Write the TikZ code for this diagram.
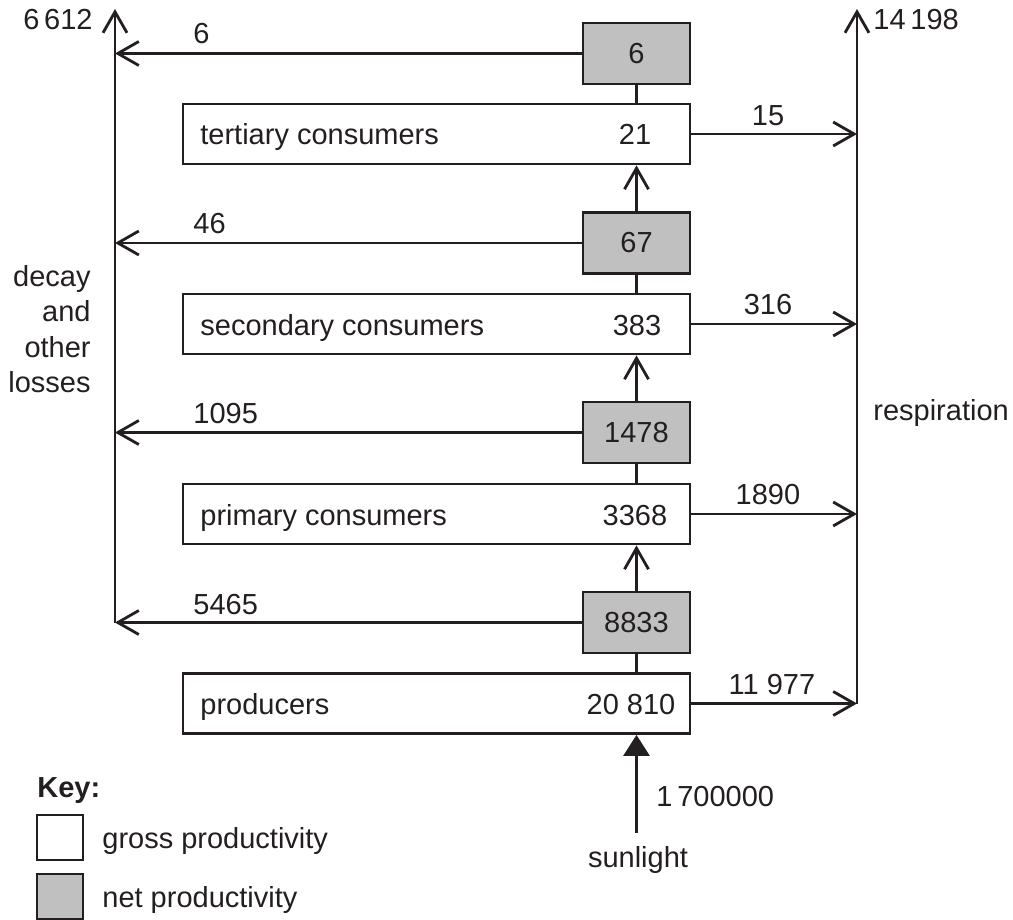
\documentclass[tikz,border=0pt]{standalone}
\usepackage{fontspec}
\setmainfont{Liberation Sans}
\usetikzlibrary{arrows.meta}
\definecolor{ink}{RGB}{35,31,32}
\definecolor{netgrey}{RGB}{192,192,192}
\begin{document}
\begin{tikzpicture}[x=1pt,y=-1pt, line width=2.8pt, color=ink,
  font=\fontsize{29}{35}\selectfont,
  grossbox/.style={draw=ink, fill=white, rectangle, minimum width=507pt, minimum height=60pt, inner sep=0pt},
  netbox/.style={draw=ink, fill=netgrey, rectangle, minimum width=107pt, minimum height=61pt, inner sep=0pt},
  keybox/.style={draw=ink, rectangle, minimum width=46pt, minimum height=45pt, inner sep=0pt, line width=2pt},
  txt/.style={inner sep=0pt, text=ink},
  flow/.style={draw=ink, -{Straight Barb[length=21pt,width=24pt]}},
  sunflow/.style={draw=ink, -{Triangle[length=21pt,width=26pt]}},
  link/.style={draw=ink},
]
\useasboundingbox (0,0) rectangle (1013,920);

% boxes
\node[netbox] (n3) at (636.5,53.5) {6};
\node[grossbox] (g3) at (436.5,134) {};
\node[netbox] (n2) at (636.5,243) {67};
\node[grossbox] (g2) at (436.5,324) {};
\node[netbox] (n1) at (636.5,432.5) {1478};
\node[grossbox] (g1) at (436.5,514) {};
\node[netbox] (n0) at (636.5,622.5) {8833};
\node[grossbox] (g0) at (436.5,703.5) {};

% box texts
\node[txt, anchor=base west] (l3) at (199,145) {tertiary consumers};
\node[txt, anchor=base] (v3) at (635,145) {21};
\node[txt, anchor=base west] (l2) at (199,335) {secondary consumers};
\node[txt, anchor=base] (v2) at (637,335) {383};
\node[txt, anchor=base west] (l1) at (199,525) {primary consumers};
\node[txt, anchor=base] (v1) at (635,525) {3368};
\node[txt, anchor=base west] (l0) at (199,714) {producers};
\node[txt, anchor=base] (v0) at (631,714) {20 810};

% side lines
\coordinate (Ltop) at (115,9);
\coordinate (Lbot) at (115,622.5);
\coordinate (Rtop) at (857,9);
\coordinate (Rbot) at (857,703.5);
\coordinate (sun) at (636.5,833);
\draw[flow] (Lbot) -- (Ltop);
\draw[flow] (Rbot) -- (Rtop);

% vertical links
\draw[link] (n3.south) -- (n3.south |- g3.north);
\draw[flow] (n2.north) -- (n2.north |- g3.south);
\draw[link] (n2.south) -- (n2.south |- g2.north);
\draw[flow] (n1.north) -- (n1.north |- g2.south);
\draw[link] (n1.south) -- (n1.south |- g1.north);
\draw[flow] (n0.north) -- (n0.north |- g1.south);
\draw[link] (n0.south) -- (n0.south |- g0.north);
\draw[sunflow] (sun) -- (sun |- g0.south);

% losses
\draw[flow] (n3.west) -- (n3.west -| Ltop);
\draw[flow] (n2.west) -- (n2.west -| Ltop);
\draw[flow] (n1.west) -- (n1.west -| Ltop);
\draw[flow] (n0.west) -- (n0.west -| Ltop);

% respiration
\draw[flow] (g3.east) -- (g3.east -| Rtop);
\draw[flow] (g2.east) -- (g2.east -| Rtop);
\draw[flow] (g1.east) -- (g1.east -| Rtop);
\draw[flow] (g0.east) -- (g0.east -| Rtop);

% arrow labels
\node[txt, anchor=base west] (a3) at (192,44) {6};
\node[txt, anchor=base west] (a2) at (192,234) {46};
\node[txt, anchor=base west] (a1) at (192,423) {1095};
\node[txt, anchor=base west] (a0) at (192,614) {5465};
\node[txt, anchor=base] (r3) at (768,126) {15};
\node[txt, anchor=base] (r2) at (768,315) {316};
\node[txt, anchor=base] (r1) at (768,504) {1890};
\node[txt, anchor=base] (r0) at (772,694) {11 977};

% totals and side labels
\node[txt, anchor=base east] (ltot) at (94,30) {6\,612};
\node[txt, anchor=base west] (rtot) at (872,30) {14\,198};
\node[txt, anchor=base east] (d1) at (92,287) {decay};
\node[txt, anchor=base east] (d2) at (92,322) {and};
\node[txt, anchor=base east] (d3) at (92,357) {other};
\node[txt, anchor=base east] (d4) at (92,392) {losses};
\node[txt, anchor=base west] (resp) at (872,420) {respiration};
\node[txt, anchor=base west] (sunval) at (655,806) {1\,700000};
\node[txt, anchor=base] (sunl) at (638,867) {sunlight};

% key
\node[txt, anchor=base west, font=\fontsize{29}{35}\selectfont\bfseries] (keyt) at (36,797) {Key:};
\node[keybox, fill=white] (kw) at (60,837.5) {};
\node[keybox, fill=netgrey] (kg) at (60,896.5) {};
\node[txt, anchor=base west] (kwt) at (101,848) {gross productivity};
\node[txt, anchor=base west] (kgt) at (101,907) {net productivity};
\end{tikzpicture}
\end{document}
